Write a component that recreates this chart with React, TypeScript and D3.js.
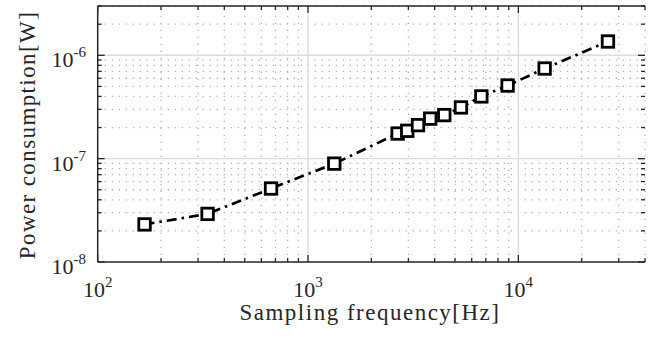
import React from "react";
import * as d3 from "d3";

const freqs = [167, 333, 667, 1333, 2667, 2963, 3333, 3810, 4444, 5333, 6667, 8889, 13333, 26667];
const power = [2.31e-8, 2.92e-8, 5.14e-8, 8.95e-8, 1.75e-7, 1.86e-7, 2.11e-7, 2.44e-7, 2.64e-7, 3.13e-7, 4.0e-7, 5.1e-7, 7.45e-7, 1.36e-6];
const xTickExps = [2, 3, 4];
const yTickExps = [-8, -7, -6];
const xLabel = "Sampling frequency[Hz]";
const yLabel = "Power consumption[W]";

const W = 652, H = 337;
const L = 97.7, R = 645, T = 6, B = 262;
const FONT = "'Liberation Serif', serif";

export default function App() {
  const x = d3.scaleLog().domain([100, 40000]).range([L, R]);
  const y = d3.scaleLog().domain([1e-8, 3e-6]).range([B, T]);

  const xMinor: number[] = [];
  for (let e = 2; e <= 4; e++) for (let k = 2; k <= 9; k++) { const v = k * 10 ** e; if (v <= 40000) xMinor.push(v); }
  const yMinor: number[] = [];
  for (let e = -8; e <= -6; e++) for (let k = 2; k <= 9; k++) { const v = k * 10 ** e; if (v <= 3.0001e-6) yMinor.push(v); }

  const line = d3.line<number>().x((_, i) => x(freqs[i])).y((d) => y(d));
  const ax = "#262626";
  const ms = 11.5;

  return (
    <svg width={W} height={H} style={{ position: "absolute", left: 0, top: 0 }} fontFamily={FONT}>
      <rect x={0} y={0} width={W} height={H} fill="#fff" />
      {xMinor.map((v) => (
        <line key={"xm" + v} x1={x(v)} x2={x(v)} y1={B} y2={T} stroke="#b4b4b4" strokeWidth={1.3} strokeDasharray="1.3,5.7" />
      ))}
      {yMinor.map((v) => (
        <line key={"ym" + v} x1={L} x2={R} y1={y(v)} y2={y(v)} stroke="#b4b4b4" strokeWidth={1.3} strokeDasharray="1.3,5.7" />
      ))}
      {xTickExps.slice(1).map((e) => (
        <line key={"xg" + e} x1={x(10 ** e)} x2={x(10 ** e)} y1={B} y2={T} stroke="#dcdcdc" strokeWidth={1.4} />
      ))}
      {yTickExps.slice(1).map((e) => (
        <line key={"yg" + e} x1={L} x2={R} y1={y(10 ** e)} y2={y(10 ** e)} stroke="#dcdcdc" strokeWidth={1.4} />
      ))}
      {xMinor.map((v) => (
        <g key={"xt" + v}>
          <line x1={x(v)} x2={x(v)} y1={B} y2={B - 4} stroke={ax} strokeWidth={1.3} />
          <line x1={x(v)} x2={x(v)} y1={T} y2={T + 4} stroke={ax} strokeWidth={1.3} />
        </g>
      ))}
      {xTickExps.map((e) => (
        <g key={"xT" + e}>
          <line x1={x(10 ** e)} x2={x(10 ** e)} y1={B} y2={B - 7} stroke={ax} strokeWidth={1.3} />
          <line x1={x(10 ** e)} x2={x(10 ** e)} y1={T} y2={T + 7} stroke={ax} strokeWidth={1.3} />
        </g>
      ))}
      {yMinor.map((v) => (
        <g key={"yt" + v}>
          <line x1={L} x2={L + 4} y1={y(v)} y2={y(v)} stroke={ax} strokeWidth={1.3} />
          <line x1={R} x2={R - 4} y1={y(v)} y2={y(v)} stroke={ax} strokeWidth={1.3} />
        </g>
      ))}
      {yTickExps.map((e) => (
        <g key={"yT" + e}>
          <line x1={L} x2={L + 7} y1={y(10 ** e)} y2={y(10 ** e)} stroke={ax} strokeWidth={1.3} />
          <line x1={R} x2={R - 7} y1={y(10 ** e)} y2={y(10 ** e)} stroke={ax} strokeWidth={1.3} />
        </g>
      ))}
      <line x1={L} x2={L} y1={T} y2={B} stroke={ax} strokeWidth={1.5} />
      <line x1={L} x2={R} y1={B} y2={B} stroke={ax} strokeWidth={1.5} />
      <line x1={L} x2={R} y1={T} y2={T} stroke={ax} strokeWidth={1.5} />
      <path d={line(power) || ""} fill="none" stroke="#000" strokeWidth={2.7} strokeDasharray="10,5,2.5,5" />
      {power.map((p, i) => (
        <rect key={"m" + i} x={x(freqs[i]) - ms / 2} y={y(p) - ms / 2} width={ms} height={ms} fill="#fff" stroke="#000" strokeWidth={2.8} />
      ))}
      {xTickExps.map((e) => (
        <text key={"xl" + e} x={x(10 ** e)} y={297} textAnchor="middle" fontSize={22} fill="#262626">
          10<tspan fontSize={15} dy={-10}>{e}</tspan>
        </text>
      ))}
      {yTickExps.map((e) => (
        <text key={"yl" + e} x={86} y={y(10 ** e) + 12} textAnchor="end" fontSize={22} fill="#262626">
          10<tspan fontSize={15} dy={-10}>{e}</tspan>
        </text>
      ))}
      <text x={370} y={320} textAnchor="middle" fontSize={23} letterSpacing={1.5} fill="#262626">{xLabel}</text>
      <text transform={`translate(35,${(T + B) / 2 + 1}) rotate(-90)`} textAnchor="middle" fontSize={23} letterSpacing={1.4} fill="#262626">{yLabel}</text>
    </svg>
  );
}
